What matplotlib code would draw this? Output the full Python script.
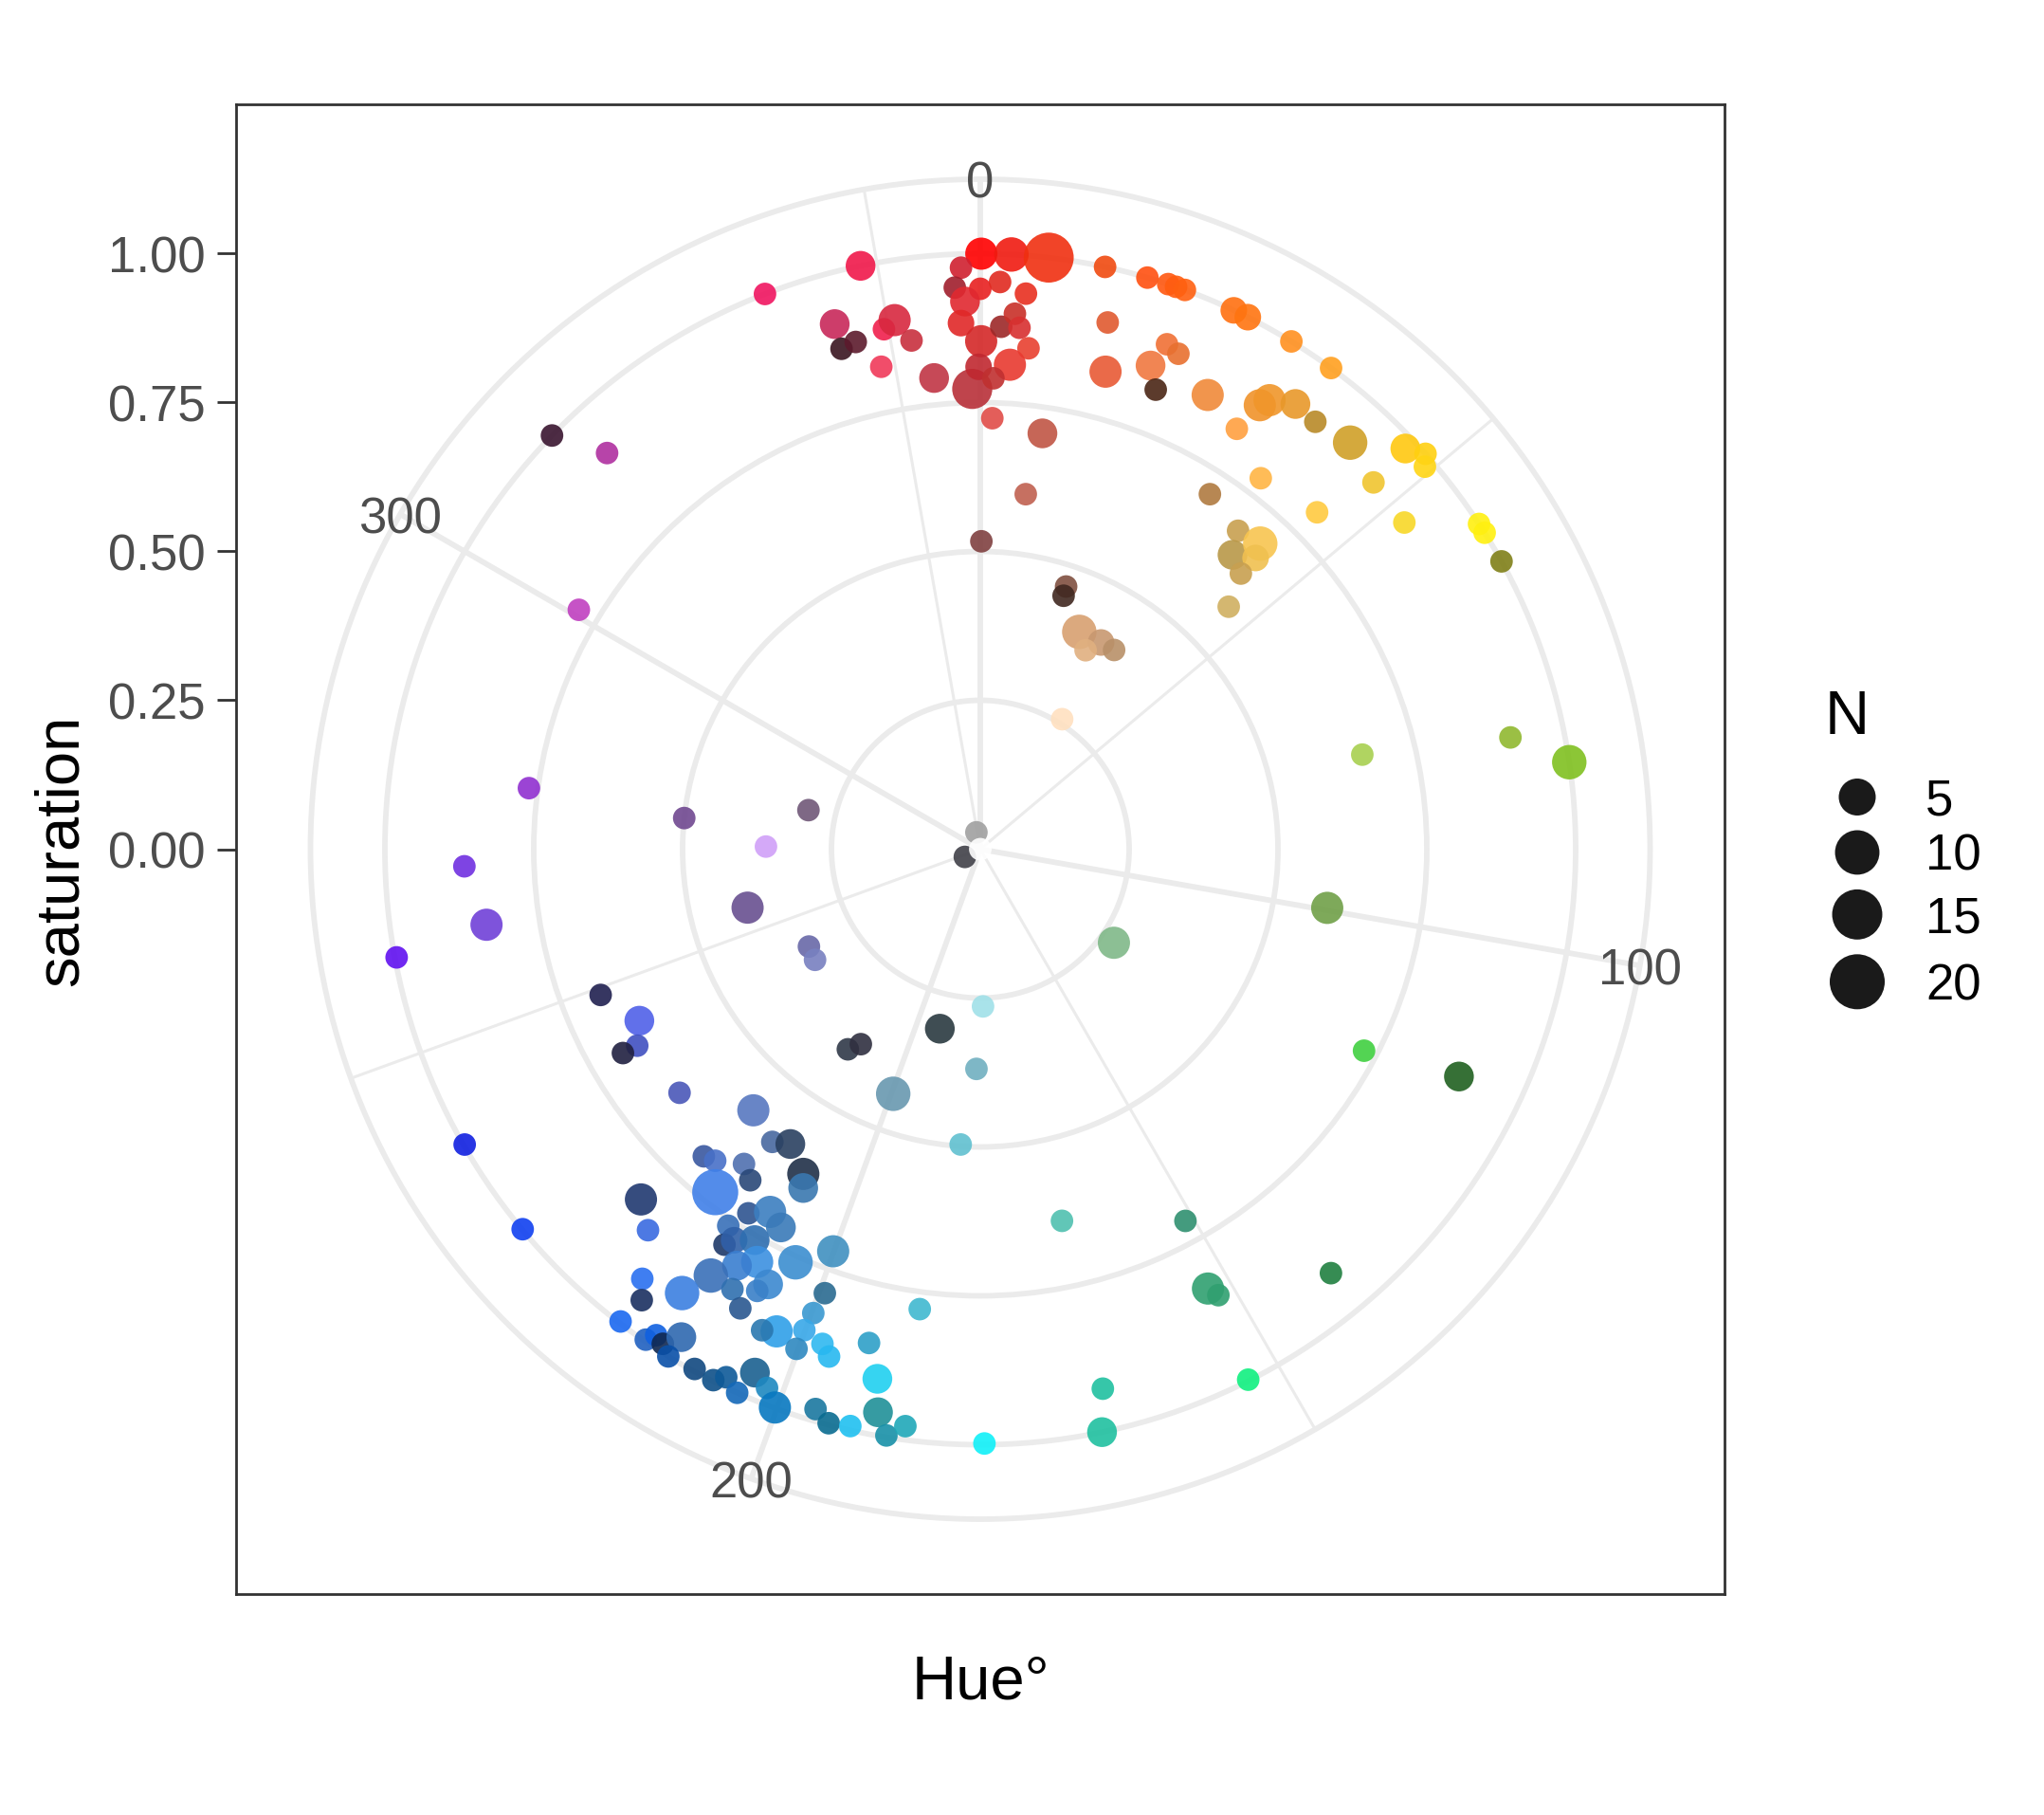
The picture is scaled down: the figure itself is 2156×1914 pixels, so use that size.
import numpy as np
import matplotlib
matplotlib.use("Agg")
import matplotlib.pyplot as plt

plt.rcParams['font.family'] = ['Liberation Sans', 'DejaVu Sans']

# Hue (degrees), saturation and N of each colour
hue = [
    # reds
    338.8, 348.4, 344.5, 344.5, 346.2, 349.5, 350.8, 352.3, 348.4, 354.4,
    359.0, 0.1, 358.1, 357.4, 0.0, 2.0, 3.0, 6.6, 4.7, 358.4,
    357.9, 0.1, 2.3, 3.7, 4.3, 5.5, 3.5, 359.8, 1.6, 1.6,
    8.5, 12.1, 13.6, 14.7,
    # oranges / yellows
    16.3, 18.4, 19.2, 20.1, 25.2, 26.7, 31.5, 36.1, 20.3, 21.8,
    19.4, 20.9, 26.6, 32.2, 32.8, 35.3, 38.1, 31.4, 42.3, 46.7,
    48.4, 49.3, 37.1, 47.0, 32.9, 45.0, 52.4, 56.9, 57.9, 61.1,
    39.0, 40.6, 42.5, 43.4, 43.4, 45.7,
    # blues
    231.0, 221.0, 199.6, 215.4, 212.8, 222.0, 220.4, 216.9, 208.6, 207.6,
    214.8, 217.7, 224.1, 221.1, 212.5, 210.1, 207.8, 213.8, 212.9, 212.2,
    210.0, 200.1, 204.1, 208.4, 210.3, 212.3, 213.9, 218.2, 216.9, 209.4,
    206.0, 206.8, 199.3, 207.6, 217.3, 187.5, 199.8, 202.9, 204.4, 200.1,
    197.7, 200.2, 196.6, 192.7, 214.3, 213.7, 212.7, 211.5, 211.6, 208.8,
    206.7, 205.7, 204.1, 203.3, 201.6, 200.2, 196.4, 194.8, 192.7, 191.0,
    190.3, 189.1, 187.4,
    # the rest
    314.0, 316.7, 300.8, 277.7, 276.0, 282.8, 270.7, 268.1, 261.3, 259.5,
    255.9, 240.4, 236.2, 249.0, 243.3, 240.2, 240.3, 240.2, 230.3, 213.5,
    211.5, 192.7, 179.0, 181.0, 183.8, 179.6, 167.2, 168.2, 167.6, 151.1,
    152.6, 151.9, 153.2, 140.4, 115.4, 117.7, 99.6, 125.0, 76.1, 78.1,
    81.6, 0.2, 7.3, 18.1, 18.2, 24.5, 30.3, 27.9, 33.9, 32.2,
    347.0, 243.4, 0.0,
]

saturation = [
    1.00, 1.00, 0.915, 0.872, 0.877, 0.888, 0.900, 0.862, 0.827, 0.795,
    0.773, 1.00, 0.977, 0.944, 0.941, 0.953, 1.00, 1.00, 0.936, 0.920,
    0.884, 0.853, 0.878, 0.901, 0.878, 0.845, 0.815, 0.810, 0.791, 0.724,
    0.706, 1.00, 0.910, 0.829,
    1.00, 1.00, 1.00, 1.00, 1.00, 1.00, 1.00, 1.00, 0.904, 0.896,
    0.861, 0.826, 0.853, 0.881, 0.897, 0.916, 0.912, 0.827, 0.923, 0.981,
    1.00, 0.985, 0.781, 0.903, 0.710, 0.800, 0.899, 1.00, 1.00, 1.00,
    0.688, 0.651, 0.696, 0.673, 0.637, 0.583,
    0.650, 0.581, 0.436, 0.603, 0.589, 0.694, 0.687, 0.661, 0.621, 0.642,
    0.677, 0.728, 0.819, 0.849, 0.725, 0.704, 0.718, 0.761, 0.791, 0.776,
    0.758, 0.719, 0.760, 0.788, 0.810, 0.847, 0.898, 0.918, 0.947, 0.848,
    0.813, 0.831, 0.790, 0.870, 0.997, 0.779, 0.828, 0.879, 0.887, 0.860,
    0.872, 0.894, 0.889, 0.850, 0.997, 0.981, 0.987, 0.961, 1.00, 0.996,
    0.998, 0.984, 1.00, 0.957, 0.973, 0.999, 0.980, 0.997, 0.993, 0.906,
    0.961, 0.997, 0.977,
    1.00, 0.914, 0.785, 0.765, 0.500, 0.296, 0.360, 0.867, 0.839, 0.997,
    0.403, 0.331, 0.334, 0.683, 0.641, 0.664, 0.691, 0.998, 0.999, 0.403,
    0.384, 0.309, 0.264, 0.369, 0.497, 0.998, 0.929, 1.00, 0.639, 0.713,
    0.831, 0.849, 0.998, 0.924, 0.890, 0.728, 0.591, 0.274, 0.661, 0.910,
    1.00, 0.517, 0.601, 0.464, 0.448, 0.401, 0.402, 0.378, 0.403, 0.258,
    0.029, 0.029, 0.0,
]

n = [
    0.2, 1.8, 1.8, 0.2, 0.2, 0.2, 2.7, 0.2, 0.2, 1.8,
    6.9, 2.7, 0.2, 0.2, 0.2, 0.2, 3.7, 14.8, 0.2, 1.8,
    0.9, 2.7, 0.2, 0.2, 0.2, 0.2, 2.7, 0.9, 0.2, 0.2,
    1.8, 0.2, 0.2, 2.7,
    0.2, 0.2, 0.2, 0.2, 0.9, 0.9, 0.2, 0.2, 0.2, 0.2,
    1.8, 0.2, 2.7, 2.7, 2.7, 1.8, 0.2, 0.2, 3.7, 1.8,
    0.2, 0.2, 0.2, 0.2, 0.2, 0.2, 0.2, 0.2, 0.2, 0.2,
    0.2, 1.8, 3.7, 0.9, 0.2, 0.2,
    0.2, 2.7, 3.7, 0.2, 1.8, 0.2, 0.2, 0.2, 2.7, 1.8,
    0.2, 11.3, 2.7, 0.2, 0.2, 2.7, 1.8, 0.2, 0.2, 0.9,
    1.8, 2.7, 3.7, 2.7, 1.8, 3.7, 3.7, 0.2, 0.2, 0.2,
    1.8, 0.2, 0.2, 0.2, 0.2, 0.2, 0.2, 2.7, 0.2, 0.2,
    0.2, 0.2, 0.2, 0.2, 0.2, 0.2, 0.2, 1.8, 0.2, 0.2,
    0.2, 0.2, 0.2, 1.8, 0.2, 2.7, 0.2, 0.2, 0.2, 1.8,
    1.8, 0.2, 0.2,
    0.2, 0.2, 0.2, 0.2, 0.2, 0.2, 0.2, 0.2, 2.7, 0.2,
    2.7, 0.2, 0.2, 0.2, 1.8, 0.2, 0.2, 0.2, 0.2, 0.2,
    0.2, 1.8, 0.2, 0.2, 0.2, 0.2, 0.2, 1.8, 0.2, 0.2,
    2.7, 0.2, 0.2, 0.2, 1.8, 0.2, 2.7, 2.7, 0.2, 0.2,
    3.7, 0.2, 0.2, 0.2, 0.2, 3.7, 0.9, 0.2, 0.2, 0.2,
    0.2, 0.2, 0.2,
]

colors = [
    '#F01560', '#F0184A', '#C8285A', '#3A1520', '#5C1A2C', '#F0204C', '#D8283F', '#C8303E', '#F03A5A', '#C03545',
    '#B83038', '#FF0000', '#D02030', '#A01E2C', '#E82020', '#E02A20', '#F01A10', '#F03010', '#E83020', '#E02830',
    '#E02828', '#D42828', '#9C2828', '#C83028', '#D83030', '#E84030', '#E83A30', '#C02830', '#C03030', '#E04C48',
    '#C05545', '#F04A10', '#E05A30', '#E85A35',
    '#FF5010', '#FF5810', '#FF5C10', '#FF6010', '#FF7010', '#FF7410', '#FF9020', '#FFA020', '#F07035', '#E87030',
    '#F07840', '#4A2515', '#F08A3A', '#F0922A', '#F0962A', '#E8982A', '#B88A28', '#FFA040', '#D0A028', '#FFC810',
    '#FFD010', '#FFD515', '#FFB545', '#F0C530', '#B07A40', '#FFCA40', '#F8D828', '#FFF010', '#FFF010', '#808018',
    '#C8A050', '#B89848', '#F8C550', '#F0C050', '#C8A050', '#D0B060',
    '#4A58B8', '#5878C0', '#6898B0', '#4868A0', '#2A4060', '#3A58A0', '#4870C8', '#5070B0', '#203048', '#3A78B0',
    '#2A4878', '#4080E8', '#203870', '#3A6AE0', '#2E5490', '#3C7EC0', '#3A7AB8', '#3870B8', '#1E3868', '#3060A8',
    '#2E6EB0', '#4090C0', '#3C8ED0', '#3C90E0', '#3A7ED0', '#3A70B8', '#3C80E0', '#2A70F0', '#1A3060', '#3070B0',
    '#3C88D0', '#3A80C8', '#2A6A90', '#2A5890', '#1A68F0', '#40B8D0', '#3A98D0', '#30A0E8', '#2A78B0', '#38A8E8',
    '#30B8F0', '#2E88C0', '#28B8F0', '#2EA0C8', '#2060C0', '#1060E0', '#102850', '#2E68B0', '#0A50A8', '#104880',
    '#0E5088', '#0E5A98', '#1468B8', '#1A6090', '#1E88C0', '#0878C0', '#1A78A0', '#0A6C90', '#20C0F0', '#20D0F0',
    '#209098', '#1890A8', '#20A8B8',
    '#3A1530', '#B030A0', '#C040C0', '#9030D0', '#704890', '#705878', '#D0A0F8', '#7030E0', '#7040D8', '#6010F0',
    '#685090', '#6868A8', '#7880C0', '#202050', '#5060E8', '#4050C0', '#202040', '#1020E0', '#1040F0', '#303848',
    '#303040', '#2A3A40', '#A0E0E8', '#70B0C0', '#60C0D0', '#10F0F8', '#20C0A0', '#20C0A0', '#50C0B0', '#309070',
    '#30A070', '#30A070', '#10F080', '#208040', '#206020', '#40D040', '#70A048', '#80B888', '#A8D050', '#90B830',
    '#80C020', '#804040', '#C06050', '#805040', '#402820', '#D8A070', '#C89870', '#E0B080', '#B89068', '#FFE0C0',
    '#A0A0A0', '#404048', '#FFFFFF',
]

sat_breaks = [0.0, 0.25, 0.5, 0.75, 1.0]
hue_major = [0, 100, 200, 300]
hue_minor = [50, 150, 250, 350]
legend_n = [5, 10, 15, 20]

W, H, DPI = 2156, 1915, 200
GRID = '#EBEBEB'
R_OUT = 1.125   # outer circle (ggplot draws it at 0.45 when 1.0 sits at 0.4)


def fx(x):
    return x / W


def fy(y):
    return 1 - y / H


def diameter_px(count):
    # area scale: diameter grows with sqrt(N)
    return 20 + 8.5 * np.sqrt(np.asarray(count, dtype=float))


def marker_area(count):
    return (diameter_px(count) * 72 / DPI) ** 2


fig = plt.figure(figsize=(W / DPI, H / DPI), dpi=DPI)
fig.patch.set_facecolor('white')

# panel frame with the saturation axis on the left
left, right, top, bottom = 249, 1819, 111, 1682
panel = [fx(left), fy(bottom), fx(right) - fx(left), fy(top) - fy(bottom)]
frame = fig.add_axes(panel)
frame.set_xlim(-0.5, 0.5)
frame.set_ylim(-0.5, 0.5)
frame.set_xticks([])
frame.set_yticks([0.4 * s for s in sat_breaks])
frame.set_yticklabels([f"{s:.2f}" for s in sat_breaks])
frame.tick_params(axis='y', length=7.2, width=1.0, color='#333333',
                  labelsize=19, labelcolor='#4D4D4D', pad=4.5)
for sp in frame.spines.values():
    sp.set_color('#333333')
    sp.set_linewidth(1.0)

# polar part, centred in the panel
inner = [panel[0] + 0.05 * panel[2], panel[1] + 0.05 * panel[3],
         0.9 * panel[2], 0.9 * panel[3]]
ax = fig.add_axes(inner, projection='polar')
ax.set_theta_zero_location('N')
ax.set_theta_direction(-1)
ax.set_xlim(0, 2 * np.pi)
ax.set_ylim(0, R_OUT)
ax.patch.set_alpha(0)
ax.set_xticks(np.deg2rad(hue_major))
ax.set_xticks(np.deg2rad(hue_minor), minor=True)
ax.set_xticklabels([])
ax.set_yticks(sat_breaks[1:])
ax.set_yticklabels([])
ax.tick_params(which='both', length=0)
ax.xaxis.grid(True, which='major', color=GRID, lw=2.1)
ax.xaxis.grid(True, which='minor', color=GRID, lw=1.1)
ax.yaxis.grid(True, which='major', color=GRID, lw=2.1)
ax.spines['polar'].set_color(GRID)
ax.spines['polar'].set_linewidth(2.1)

ax.scatter(np.deg2rad(hue), saturation, s=marker_area(n), c=colors,
           alpha=0.9, edgecolors='none', zorder=3, clip_on=False)

# hue labels sit on the outer circle
for h in hue_major:
    ax.annotate(str(h), xy=(np.deg2rad(h), R_OUT), xytext=(0, -1.8),
                textcoords='offset points', ha='center', va='center',
                fontsize=19, color='#4D4D4D', zorder=4, annotation_clip=False)

# axis titles
fig.text(fx(65), fy(897), 'saturation', rotation=90, ha='center', va='center', fontsize=23.5)
fig.text(fx(1034), fy(1774), 'Hue°', ha='center', va='center', fontsize=23.5)

# legend
leg = fig.add_axes([0, 0, 1, 1])
leg.set_xlim(0, W)
leg.set_ylim(H, 0)
leg.axis('off')
leg.patch.set_alpha(0)
leg.text(1925, 757, 'N', ha='left', va='center', fontsize=23.5)
diam = diameter_px(legend_n)
ys = [841.5]
for i in range(1, len(legend_n)):
    ys.append(ys[-1] + (diam[i - 1] + diam[i]) / 2 + 15.5)
leg.scatter([1959] * len(legend_n), ys, s=marker_area(legend_n), c='#1A1A1A', edgecolors='none')
for y, lab in zip(ys, legend_n):
    leg.text(2031, y + 4, str(lab), ha='left', va='center', fontsize=19)

fig.savefig('out.png', dpi=DPI)
